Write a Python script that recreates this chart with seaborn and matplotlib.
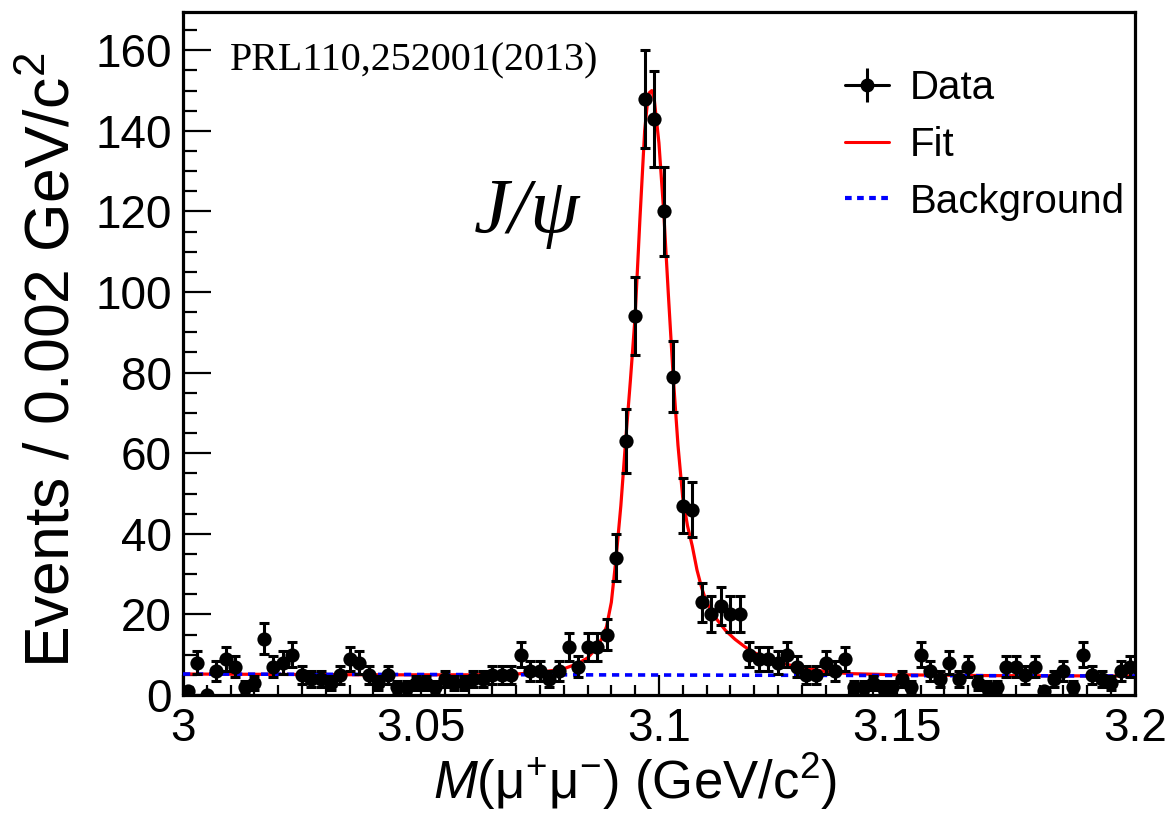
import numpy as np
import pandas as pd
import matplotlib
matplotlib.use("Agg")
import matplotlib.pyplot as plt
import seaborn as sns
from matplotlib.lines import Line2D
from matplotlib.ticker import MultipleLocator
from matplotlib.legend_handler import HandlerTuple

# ---------------- data ----------------
bin_lo = 3.0
bin_width = 0.002
counts = [
    1, 8, 0, 6, 9, 7, 2, 3, 14, 7, 8, 10, 5, 4, 4, 3,
    5, 9, 8, 5, 3, 5, 2, 2, 3, 3, 2, 4, 3, 3, 4, 4, 5, 5, 5,
    10, 6, 6, 4, 6, 12, 7, 12, 12, 15, 34, 63, 94, 148, 143, 120, 79, 47, 46, 23, 20, 22, 20, 20,
    10, 9, 9, 8, 10, 7, 5, 5, 8, 6, 9, 2, 2, 3, 2,
    2, 4, 2, 10, 6, 4, 8, 4, 7, 3, 2, 2, 7, 7, 5, 7, 1, 4, 6, 2, 10, 5, 4, 3, 6, 7,
]
fit_x = [3.000, 3.020, 3.040, 3.060, 3.070, 3.075, 3.080, 3.083, 3.085, 3.087, 3.088,
         3.089, 3.090, 3.091, 3.092, 3.093, 3.094, 3.095, 3.096, 3.097, 3.0975, 3.098,
         3.0985, 3.099, 3.100, 3.101, 3.102, 3.103, 3.104, 3.105, 3.106, 3.107, 3.108,
         3.109, 3.110, 3.112, 3.114, 3.116, 3.118, 3.120, 3.123, 3.126, 3.130, 3.135,
         3.140, 3.150, 3.170, 3.200]
fit_y = [5.2, 5.1, 5.0, 5.0, 5.2, 5.6, 6.5, 7.8, 9.2, 11.8, 14.0,
         17.0, 23.0, 34.0, 47.0, 63.0, 78.0, 94.0, 118.0, 140.0, 146.0, 149.5,
         150.0, 148.0, 137.0, 120.0, 99.0, 79.0, 62.0, 49.0, 42.0, 37.0, 31.0,
         26.5, 23.0, 19.0, 16.0, 13.8, 12.0, 10.5, 9.0, 7.8, 6.8, 5.8,
         5.3, 5.0, 4.8, 4.7]
bkg_x = [3.0, 3.2]
bkg_y = [5.2, 4.7]

centers = bin_lo + bin_width * (np.arange(len(counts)) + 0.5)
df = pd.DataFrame({"mass": centers, "events": counts})
df["err"] = np.sqrt(df["events"])
fit_df = pd.DataFrame({"mass": fit_x, "events": fit_y})
bkg_df = pd.DataFrame({"mass": bkg_x, "events": bkg_y})

# ---------------- style ----------------
sns.set_theme(style="white")
plt.rcParams["font.family"] = ["Liberation Sans", "DejaVu Sans"]
plt.rcParams["mathtext.fontset"] = "custom"
plt.rcParams["mathtext.rm"] = "Liberation Sans"
plt.rcParams["mathtext.it"] = "Liberation Sans:italic"
plt.rcParams["mathtext.bf"] = "Liberation Sans:bold"
for k in ["text.color", "axes.labelcolor", "xtick.color", "ytick.color", "axes.edgecolor"]:
    plt.rcParams[k] = "black"

fig = plt.figure(figsize=(11.73, 8.30), dpi=100)
ax = fig.add_axes([0.156, 0.1627, 0.8115, 0.8228])

# fit and background
sns.lineplot(data=fit_df, x="mass", y="events", ax=ax, color="#ff0000", lw=2.3,
             zorder=2, estimator=None, sort=True)
sns.lineplot(data=bkg_df, x="mass", y="events", ax=ax, color="#0000ff", lw=2.6,
             zorder=3, estimator=None)
ax.lines[-1].set_dashes((2.0, 1.6))

# data points
ax.errorbar(df["mass"], df["events"], yerr=df["err"], fmt="none", ecolor="black",
            elinewidth=2.2, capsize=3.3, capthick=2.2, zorder=4)
sns.scatterplot(data=df, x="mass", y="events", ax=ax, color="black", s=105,
                edgecolor="black", linewidth=0, zorder=5, legend=False)

# axes
ax.set_xlim(3.0, 3.2)
ax.set_ylim(0, 169.5)
ax.xaxis.set_minor_locator(MultipleLocator(0.005))
ax.yaxis.set_major_locator(MultipleLocator(20))
ax.yaxis.set_minor_locator(MultipleLocator(5))
ax.set_xticks([3.0, 3.05, 3.1, 3.15, 3.2])
ax.set_xticklabels(["3", "3.05", "3.1", "3.15", "3.2"])
ax.tick_params(axis="x", which="major", direction="in", length=14.5, width=1.6,
               labelsize=33, pad=9, bottom=True, top=False)
ax.tick_params(axis="x", which="minor", direction="in", length=7.2, width=1.6,
               bottom=True, top=False)
ax.tick_params(axis="y", which="major", direction="in", length=20, width=1.6,
               labelsize=33, pad=8, left=True, right=False)
ax.tick_params(axis="y", which="minor", direction="in", length=10, width=1.6,
               left=True, right=False)
for sp in ax.spines.values():
    sp.set_linewidth(2.3)
    sp.set_color("black")
    sp.set_visible(True)

ax.set_xlabel(r"$M$(μ$^{+}$μ$^{-}$) (GeV/c$^{2}$)", fontsize=38)
ax.set_ylabel(r"Events / 0.002 GeV/c$^{2}$", fontsize=45)
ax.xaxis.set_label_coords(0.475, -0.082)
ax.yaxis.set_label_coords(-0.106, 0.49)

# annotations
ax.text(0.049, 0.928, "PRL110,252001(2013)", transform=ax.transAxes,
        family="Liberation Serif", fontsize=28.8, va="center", ha="left")
ax.text(0.305, 0.705, "J/ψ", transform=ax.transAxes, family="Liberation Serif",
        style="italic", fontsize=57, va="center", ha="left")

# legend
h_data = (Line2D([], [], color="black", lw=2.2),
          Line2D([], [], color="black", marker="|", markersize=24, mew=2.2, ls="none"),
          Line2D([], [], color="black", marker="o", markersize=9, ls="none"))
h_fit = Line2D([], [], color="#ff0000", lw=2.2)
h_bkg = Line2D([], [], color="#0000ff", lw=3.0, dashes=(1.6, 1.3))
leg = ax.legend([h_data, h_fit, h_bkg], ["Data", "Fit", "Background"],
                handler_map={tuple: HandlerTuple(ndivide=1, pad=0)},
                loc="upper left", bbox_to_anchor=(0.695, 0.917), frameon=False,
                fontsize=29, handlelength=1.1, handletextpad=0.52,
                labelspacing=0.47, borderpad=0, borderaxespad=0)
for t in leg.get_texts():
    t.set_color("black")

fig.savefig("out.png", dpi=100)
